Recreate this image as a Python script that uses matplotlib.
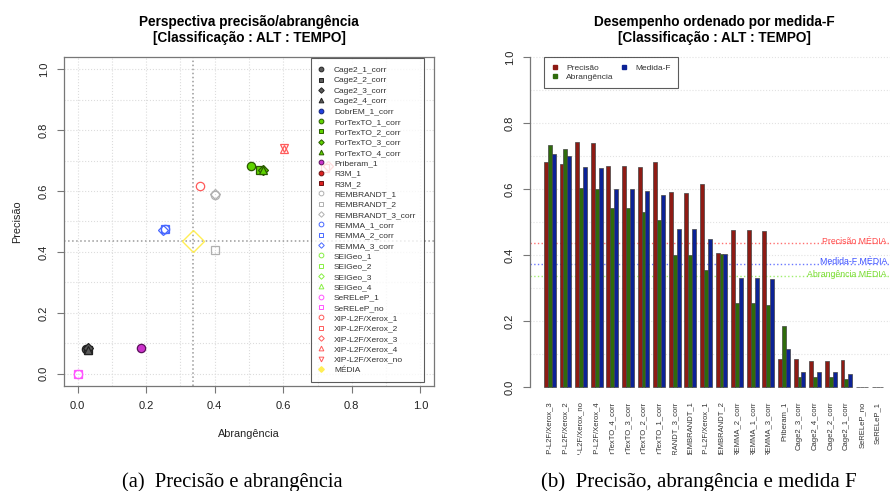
import numpy as np
import matplotlib
matplotlib.use('Agg')
import matplotlib.pyplot as plt
from matplotlib.lines import Line2D
from matplotlib.patches import Rectangle

plt.rcParams['font.family'] = ['Liberation Sans', 'DejaVu Sans']

sistemas = ['XIP-L2F/Xerox_3', 'XIP-L2F/Xerox_2', 'XIP-L2F/Xerox_no', 'XIP-L2F/Xerox_4',
            'PorTexTO_4_corr', 'PorTexTO_3_corr', 'PorTexTO_2_corr', 'PorTexTO_1_corr',
            'REMBRANDT_3_corr', 'REMBRANDT_1', 'XIP-L2F/Xerox_1', 'REMBRANDT_2',
            'REMMA_2_corr', 'REMMA_1_corr', 'REMMA_3_corr', 'Priberam_1',
            'Cage2_3_corr', 'Cage2_4_corr', 'Cage2_2_corr', 'Cage2_1_corr',
            'SeRELeP_no', 'SeRELeP_1']
precisao = [0.682, 0.677, 0.742, 0.739, 0.670, 0.670, 0.668, 0.683, 0.590, 0.588, 0.616, 0.407,
            0.477, 0.477, 0.473, 0.086, 0.084, 0.079, 0.079, 0.083, 0.0, 0.0]
abrangencia = [0.732, 0.722, 0.603, 0.601, 0.542, 0.542, 0.531, 0.507, 0.400, 0.400, 0.356, 0.402,
               0.255, 0.255, 0.250, 0.185, 0.030, 0.030, 0.030, 0.025, 0.0, 0.0]
medida_f = [0.707, 0.700, 0.667, 0.664, 0.600, 0.600, 0.593, 0.583, 0.479, 0.478, 0.450, 0.404,
            0.331, 0.331, 0.327, 0.116, 0.045, 0.045, 0.045, 0.040, 0.0, 0.0]

# entradas da legenda do grafico (a)
legenda = ['Cage2_1_corr', 'Cage2_2_corr', 'Cage2_3_corr', 'Cage2_4_corr', 'DobrEM_1_corr',
           'PorTexTO_1_corr', 'PorTexTO_2_corr', 'PorTexTO_3_corr', 'PorTexTO_4_corr',
           'Priberam_1', 'R3M_1', 'R3M_2', 'REMBRANDT_1', 'REMBRANDT_2', 'REMBRANDT_3_corr',
           'REMMA_1_corr', 'REMMA_2_corr', 'REMMA_3_corr', 'SEIGeo_1', 'SEIGeo_2', 'SEIGeo_3',
           'SEIGeo_4', 'SeRELeP_1', 'SeRELeP_no', 'XIP-L2F/Xerox_1', 'XIP-L2F/Xerox_2',
           'XIP-L2F/Xerox_3', 'XIP-L2F/Xerox_4', 'XIP-L2F/Xerox_no']

# estilo: (marcador, preenchido, cor, borda)
cinza, verde, azul = '#5a5a5a', '#5fd400', '#2040e0'
estilo = {
    'Cage2_1_corr': ('o', True, cinza, '#222222'),
    'Cage2_2_corr': ('s', True, cinza, '#222222'),
    'Cage2_3_corr': ('D', True, cinza, '#222222'),
    'Cage2_4_corr': ('^', True, cinza, '#222222'),
    'DobrEM_1_corr': ('o', True, azul, '#10207a'),
    'PorTexTO_1_corr': ('o', True, verde, '#2a5a00'),
    'PorTexTO_2_corr': ('s', True, verde, '#2a5a00'),
    'PorTexTO_3_corr': ('D', True, verde, '#2a5a00'),
    'PorTexTO_4_corr': ('^', True, verde, '#2a5a00'),
    'Priberam_1': ('o', True, '#cc33cc', '#5a105a'),
    'R3M_1': ('o', True, '#dd2020', '#6a1010'),
    'R3M_2': ('s', True, '#dd2020', '#6a1010'),
    'REMBRANDT_1': ('o', False, '#b0b0b0', '#b0b0b0'),
    'REMBRANDT_2': ('s', False, '#b0b0b0', '#b0b0b0'),
    'REMBRANDT_3_corr': ('D', False, '#b0b0b0', '#b0b0b0'),
    'REMMA_1_corr': ('o', False, '#4868ff', '#4868ff'),
    'REMMA_2_corr': ('s', False, '#4868ff', '#4868ff'),
    'REMMA_3_corr': ('D', False, '#4868ff', '#4868ff'),
    'SEIGeo_1': ('o', False, '#88ee44', '#88ee44'),
    'SEIGeo_2': ('s', False, '#88ee44', '#88ee44'),
    'SEIGeo_3': ('D', False, '#88ee44', '#88ee44'),
    'SEIGeo_4': ('^', False, '#88ee44', '#88ee44'),
    'SeRELeP_1': ('o', False, '#ff55ff', '#ff55ff'),
    'SeRELeP_no': ('s', False, '#ff55ff', '#ff55ff'),
    'XIP-L2F/Xerox_1': ('o', False, '#ff5a5a', '#ff5a5a'),
    'XIP-L2F/Xerox_2': ('s', False, '#ff5a5a', '#ff5a5a'),
    'XIP-L2F/Xerox_3': ('D', False, '#ff5a5a', '#ff5a5a'),
    'XIP-L2F/Xerox_4': ('^', False, '#ff5a5a', '#ff5a5a'),
    'XIP-L2F/Xerox_no': ('v', False, '#ff5a5a', '#ff5a5a'),
}

media_p = np.mean(precisao)
media_a = np.mean(abrangencia)
media_f = np.mean(medida_f)

fig = plt.figure(figsize=(8.9, 4.91), dpi=100)
eixo_cor = '#777777'
txt_cor = '#222222'

# ---------------- (a) precisao x abrangencia ----------------
ax1 = fig.add_axes([64/890, 105/491, 370/890, 329/491])
ax1.set_xlim(-0.04, 1.04)
ax1.set_ylim(-0.04, 1.04)
for v in np.arange(0, 1.01, 0.1):
    ax1.axvline(v, color='#dcdcdc', ls=':', lw=0.8, zorder=0)
    ax1.axhline(v, color='#dcdcdc', ls=':', lw=0.8, zorder=0)
ax1.axvline(media_a, color='#9a9a9a', ls=':', lw=1.1, zorder=1)
ax1.axhline(media_p, color='#9a9a9a', ls=':', lw=1.1, zorder=1)

handles = []
for nome in legenda:
    m, cheio, cor, borda = estilo[nome]
    fc = cor if cheio else 'none'
    ms = 4.6 if m == 'D' else 6
    if nome in sistemas:
        i = sistemas.index(nome)
        ax1.plot(abrangencia[i], precisao[i], marker=m, ls='none', ms=ms,
                 mfc=fc, mec=borda, mew=0.9, zorder=3)
    handles.append(Line2D([], [], marker=m, ls='none', ms=3.4 if m != 'D' else 2.8,
                          mfc=fc, mec=borda, mew=0.7, label=nome))
ax1.plot(media_a, media_p, marker='D', ls='none', ms=11.5, mfc='none', mec='#ffee55',
         mew=1.0, zorder=3)
handles.append(Line2D([], [], marker='D', ls='none', ms=2.8, mfc='#ffee55', mec='#ffee55',
                      label='MÉDIA'))

leg = ax1.legend(handles=handles, loc='upper right', bbox_to_anchor=(0.972, 0.997),
                 fontsize=6, frameon=True, fancybox=False, borderaxespad=0,
                 borderpad=1.0, labelspacing=0.3, handlelength=0.6, handletextpad=1.2)
leg.get_frame().set_edgecolor('#333333')
leg.get_frame().set_linewidth(0.8)
for t in leg.get_texts():
    t.set_color('#333333')

ax1.set_xticks(np.arange(0, 1.01, 0.2))
ax1.set_yticks(np.arange(0, 1.01, 0.2))
ax1.set_xticklabels(['0.0', '0.2', '0.4', '0.6', '0.8', '1.0'])
ax1.set_yticklabels(['0.0', '0.2', '0.4', '0.6', '0.8', '1.0'], rotation=90, va='center')
ax1.tick_params(length=5, width=0.8, color=eixo_cor, labelsize=8, labelcolor=txt_cor, pad=6)
for s in ax1.spines.values():
    s.set_color(eixo_cor)
    s.set_linewidth(0.9)
ax1.set_xlabel('Abrangência', fontsize=7.8, color=txt_cor, labelpad=13)
ax1.set_ylabel('Precisão', fontsize=7.8, color=txt_cor, labelpad=12)

# ---------------- (b) barras ordenadas por medida-F ----------------
ax2 = fig.add_axes([530.4/890, 90.8/491, 366.6/890, 356.4/491])
ax2.set_xlim(-2.48, 91.48)
ax2.set_ylim(-0.04, 1.04)
for v in np.arange(0.1, 1.01, 0.1):
    ax2.axhline(v, color='#e2e2e2', ls=':', lw=0.8, zorder=0)

x0 = 1 + 4 * np.arange(len(sistemas))
ax2.bar(x0 + 0.5, precisao, width=1, color='#8e1b14', edgecolor='#444444', lw=0.5,
        label='Precisão', zorder=2)
ax2.bar(x0 + 1.5, abrangencia, width=1, color='#2f6b0c', edgecolor='#444444', lw=0.5,
        label='Abrangência', zorder=2)
ax2.bar(x0 + 2.5, medida_f, width=1, color='#0c2296', edgecolor='#444444', lw=0.5,
        label='Medida-F', zorder=2)

medias = [(media_p, '#ff7070', '#ff4d4d', 'Precisão MÉDIA'),
          (media_f, '#6a78ff', '#3c50ff', 'Medida-F MÉDIA'),
          (media_a, '#a0ee70', '#78dc30', 'Abrangência MÉDIA')]
for val, cl, ct, rot in medias:
    ax2.axhline(val, color=cl, ls=':', lw=1.0, zorder=1)
    ax2.text(88.9, val + 0.006, rot, color=ct, fontsize=6.3, ha='right', va='center')

lh = [Line2D([], [], marker='s', ls='none', ms=3, color=c, label=l)
      for c, l in [('#8e1b14', 'Precisão'), ('#2f6b0c', 'Abrangência'), ('#0c2296', 'Medida-F')]]
leg2 = ax2.legend(handles=lh, ncol=2, loc='upper left', bbox_to_anchor=(0.037, 0.963),
                  fontsize=6, frameon=True, fancybox=False, borderaxespad=0,
                  borderpad=0.85, labelspacing=0.15, handlelength=1.0, handletextpad=0.8,
                  columnspacing=0.8)
leg2.get_frame().set_edgecolor('#333333')
leg2.get_frame().set_linewidth(0.8)
for t in leg2.get_texts():
    t.set_color('#333333')

for s in ['top', 'right', 'bottom']:
    ax2.spines[s].set_visible(False)
ax2.spines['left'].set_bounds(0, 1)
ax2.spines['left'].set_color(eixo_cor)
ax2.spines['left'].set_linewidth(0.9)
ax2.set_yticks(np.arange(0, 1.01, 0.2))
ax2.set_yticklabels(['0.0', '0.2', '0.4', '0.6', '0.8', '1.0'], rotation=90, va='center')
ax2.tick_params(axis='y', length=5, width=0.8, color=eixo_cor, labelsize=8,
                labelcolor=txt_cor, pad=6)
ax2.set_xticks(x0 + 1.5)
ax2.set_xticklabels(sistemas, rotation=90, fontsize=5.5, color='#333333')
ax2.tick_params(axis='x', length=0, pad=1)

# titulos
fig.text(249/890, 1 - 30/491, 'Perspectiva precisão/abrangência\n[Classificação : ALT : TEMPO]',
         ha='center', va='center', fontsize=9.8, fontweight='bold', linespacing=1.1)
fig.text(714/890, 1 - 30/491, 'Desempenho ordenado por medida-F\n[Classificação : ALT : TEMPO]',
         ha='center', va='center', fontsize=9.8, fontweight='bold', linespacing=1.1)

# rotulos cortados como na figura original
fig.add_artist(Rectangle((0.5, 0), 0.5, 36/491, transform=fig.transFigure,
                         facecolor='white', edgecolor='none', zorder=10))

fig.text(232/890, 1 - 482/491, '(a)  Precisão e abrangência', ha='center', va='center',
         fontsize=14.8, family=['Liberation Serif', 'DejaVu Serif'], zorder=11)
fig.text(699/890, 1 - 482/491, '(b)  Precisão, abrangência e medida F', ha='center',
         va='center', fontsize=15, family=['Liberation Serif', 'DejaVu Serif'], zorder=11)

fig.savefig('out.png', dpi=100)
